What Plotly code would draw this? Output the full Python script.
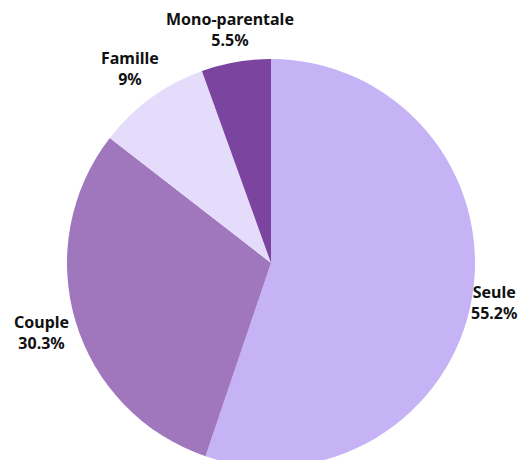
import math
import plotly.graph_objects as go

labels = ["Seule", "Couple", "Famille", "Mono-parentale"]
values = [55.2, 30.3, 9, 5.5]
value_text = ["55.2%", "30.3%", "9%", "5.5%"]
colors = ["#c5b3f5", "#a077bd", "#e5dcfb", "#7b449e"]

W, H = 531, 460
# pie geometry in figure pixels
cx, cy, R = 263, 255, 204
label_r = 240

fig = go.Figure(go.Pie(
    labels=labels,
    values=values,
    text=value_text,
    sort=False,
    direction="clockwise",
    rotation=0,
    marker=dict(colors=colors, line=dict(width=0)),
    textinfo="none",
    showlegend=False,
    domain=dict(x=[(cx - R) / W, (cx + R) / W], y=[1 - (cy + R) / H, 1 - (cy - R) / H]),
    hoverinfo="label+text",
))

total = sum(values)
cum = 0
annotations = []
for lab, v, t in zip(labels, values, value_text):
    mid = (cum + v / 2) / total * 2 * math.pi
    cum += v
    px = cx + label_r * math.sin(mid)
    py = cy - label_r * math.cos(mid)
    px = min(max(px, 30), W - 45)
    py = max(py, 22)
    annotations.append(dict(
        x=px / W, y=1 - py / H, xref="paper", yref="paper",
        text=f"<b>{lab}</b><br><b>{t}</b>",
        showarrow=False, xanchor="center", yanchor="middle", align="center",
        font=dict(family="Noto Sans", size=16, color="#111111"),
    ))

fig.update_layout(
    width=W,
    height=H,
    margin=dict(l=0, r=0, t=0, b=0),
    paper_bgcolor="white",
    plot_bgcolor="white",
    annotations=annotations,
)

fig.write_html("out.html")
